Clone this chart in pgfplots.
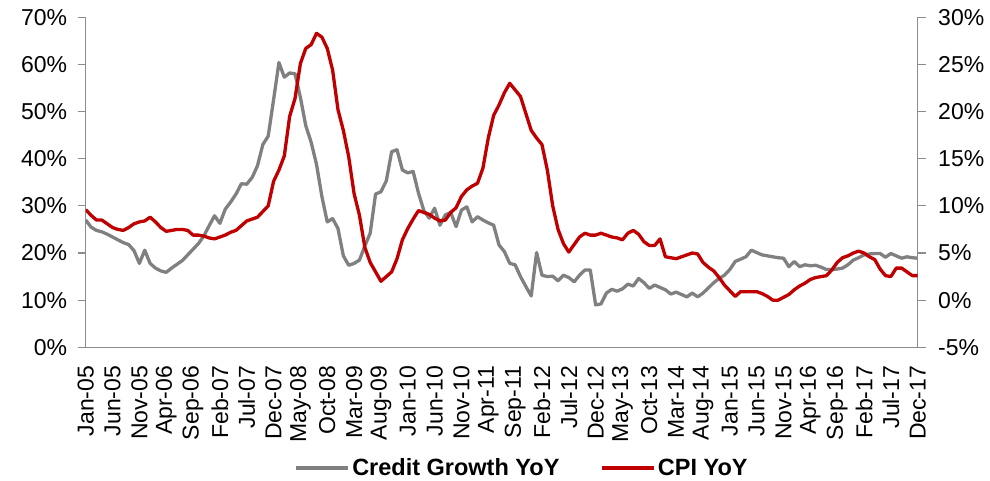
\documentclass[border=0pt]{standalone}
\usepackage{pgfplots}
\pgfplotsset{compat=1.18}
\usepackage{pgfplotstable}
\usepackage{fontspec}
\setmainfont{Liberation Sans}
\definecolor{credgrey}{HTML}{808080}
\definecolor{cpired}{HTML}{C00000}
\definecolor{axgrey}{HTML}{8C8C8C}

\pgfplotstableread{
m v
0 27.0
1 25.5
2 24.8
3 24.5
4 24.0
5 23.4
6 22.8
7 22.2
8 21.8
9 20.5
10 17.8
11 20.6
12 17.8
13 16.8
14 16.2
15 15.9
16 16.8
17 17.6
18 18.4
19 19.6
20 20.8
21 22.0
22 23.6
23 25.8
24 27.9
25 26.3
26 29.3
27 30.8
28 32.5
29 34.7
30 34.6
31 36.0
32 38.5
33 43.0
34 44.8
35 52.5
36 60.4
37 57.3
38 58.2
39 58.0
40 53.0
41 47.0
42 43.5
43 38.8
44 32.0
45 26.6
46 27.3
47 25.2
48 19.4
49 17.4
50 17.8
51 18.5
52 21.5
53 24.2
54 32.5
55 33.0
56 35.3
57 41.5
58 41.9
59 37.6
60 37.0
61 37.3
62 32.7
63 29.0
64 27.4
65 29.5
66 25.9
67 28.1
68 28.6
69 25.6
70 29.1
71 29.8
72 26.6
73 27.7
74 27.0
75 26.4
76 25.9
77 21.7
78 20.3
79 17.8
80 17.5
81 15.0
82 12.9
83 10.9
84 20.1
85 15.3
86 15.0
87 15.1
88 14.1
89 15.3
90 14.8
91 13.9
92 15.3
93 16.4
94 16.4
95 9.0
96 9.2
97 11.5
98 12.3
99 11.9
100 12.4
101 13.4
102 13.0
103 14.6
104 13.7
105 12.5
106 13.2
107 12.7
108 12.2
109 11.3
110 11.7
111 11.2
112 10.7
113 11.5
114 10.7
115 11.5
116 12.6
117 13.7
118 14.6
119 15.3
120 16.5
121 18.2
122 18.7
123 19.2
124 20.6
125 20.1
126 19.6
127 19.4
128 19.2
129 19.0
130 18.9
131 17.1
132 18.2
133 17.1
134 17.5
135 17.3
136 17.4
137 17.0
138 16.5
139 16.5
140 16.6
141 16.8
142 17.5
143 18.5
144 19.0
145 19.6
146 19.8
147 19.9
148 19.9
149 19.1
150 19.9
151 19.4
152 18.9
153 19.2
154 19.0
155 18.9
}\credit

\pgfplotstableread{
m v
0 9.6
1 9.0
2 8.5
3 8.5
4 8.1
5 7.7
6 7.5
7 7.4
8 7.7
9 8.1
10 8.3
11 8.4
12 8.8
13 8.3
14 7.7
15 7.3
16 7.4
17 7.5
18 7.5
19 7.4
20 6.9
21 6.9
22 6.8
23 6.6
24 6.5
25 6.7
26 6.9
27 7.2
28 7.4
29 7.9
30 8.4
31 8.6
32 8.8
33 9.4
34 10.0
35 12.6
36 13.8
37 15.3
38 19.5
39 21.4
40 25.1
41 26.7
42 27.1
43 28.3
44 27.9
45 26.7
46 24.4
47 20.2
48 18.0
49 15.2
50 11.3
51 9.0
52 5.6
53 4.0
54 3.0
55 2.0
56 2.5
57 3.0
58 4.4
59 6.4
60 7.6
61 8.6
62 9.5
63 9.3
64 9.1
65 8.7
66 8.4
67 8.5
68 9.3
69 9.8
70 11.0
71 11.7
72 12.1
73 12.4
74 14.0
75 17.2
76 19.6
77 20.7
78 22.0
79 23.0
80 22.3
81 21.6
82 19.8
83 18.0
84 17.2
85 16.5
86 13.8
87 10.0
88 7.5
89 6.0
90 5.1
91 5.9
92 6.7
93 7.1
94 6.9
95 6.9
96 7.1
97 6.9
98 6.7
99 6.6
100 6.4
101 7.1
102 7.4
103 7.0
104 6.2
105 5.8
106 5.8
107 6.5
108 4.6
109 4.5
110 4.4
111 4.6
112 4.8
113 5.0
114 4.9
115 4.0
116 3.5
117 3.1
118 2.4
119 1.6
120 1.0
121 0.4
122 0.9
123 0.9
124 0.9
125 0.9
126 0.7
127 0.4
128 0.0
129 0.0
130 0.3
131 0.6
132 1.1
133 1.5
134 1.8
135 2.2
136 2.4
137 2.5
138 2.6
139 3.2
140 4.0
141 4.5
142 4.7
143 5.0
144 5.2
145 5.0
146 4.6
147 4.3
148 3.3
149 2.6
150 2.5
151 3.4
152 3.4
153 3.0
154 2.6
155 2.6
}\cpi

\pgfplotsset{
  common/.style={
    at={(0pt,0pt)}, anchor=south west,
    scale only axis, width=832pt, height=330pt,
    xmin=0, xmax=155,
    axis line style={axgrey, line width=1.2pt},
    tick align=outside, major tick length=8pt,
    every tick/.style={axgrey, line width=1.2pt},
  }
}

\begin{document}
\begin{tikzpicture}
\path[use as bounding box] (-85.7pt,-132.7pt) rectangle (904.3pt,347.3pt);
\begin{axis}[common,
  ymin=0, ymax=70,
  axis x line*=bottom, axis y line*=left,
  xtick={0,5,...,155},
  xticklabels={Jan-05,Jun-05,Nov-05,Apr-06,Sep-06,Feb-07,Jul-07,Dec-07,May-08,Oct-08,Mar-09,Aug-09,Jan-10,Jun-10,Nov-10,Apr-11,Sep-11,Feb-12,Jul-12,Dec-12,May-13,Oct-13,Mar-14,Aug-14,Jan-15,Jun-15,Nov-15,Apr-16,Sep-16,Feb-17,Jul-17,Dec-17},
  x tick label style={rotate=90, anchor=east, font=\fontsize{23}{24}\selectfont},
  xticklabel shift=7pt,
  x tick style={draw=none},
  ytick={0,10,...,70},
  yticklabels={0\%,10\%,20\%,30\%,40\%,50\%,60\%,70\%},
  y tick label style={font=\fontsize{23}{24}\selectfont, xshift=-7pt},
]
\addplot[credgrey, line width=3.3pt, line join=round] table[x=m,y=v]{\credit};
\end{axis}
\begin{axis}[common,
  ymin=-5, ymax=30,
  hide x axis, axis y line*=right,
  ytick={-5,0,5,...,30},
  yticklabels={-5\%,0\%,5\%,10\%,15\%,20\%,25\%,30\%},
  y tick label style={font=\fontsize{23}{24}\selectfont, xshift=9pt},
  legend style={at={(0.524,-0.366)}, anchor=center, draw=none, fill=none,
    legend columns=2, font=\bfseries\fontsize{23.5}{24}\selectfont,
    /tikz/every even column/.append style={column sep=38pt},
    /tikz/every odd column/.append style={column sep=0pt}},
  legend image code/.code={\draw[#1, line width=4.5pt] (0pt,0pt) -- (52pt,0pt);},
]
\addlegendimage{credgrey, line width=3.3pt}
\addlegendentry{Credit Growth YoY}
\addplot[cpired, line width=3.3pt, line join=round] table[x=m,y=v]{\cpi};
\addlegendentry{CPI YoY}
\end{axis}
\end{tikzpicture}
\end{document}
